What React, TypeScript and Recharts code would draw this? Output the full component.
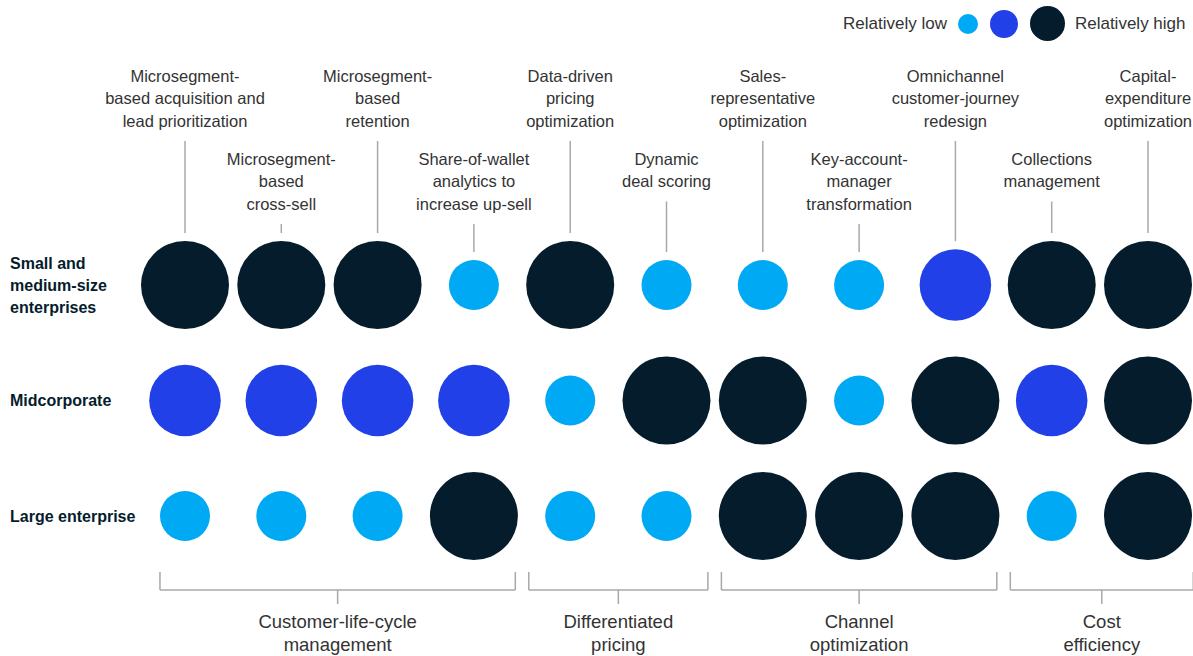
import React from "react";
import {
  ScatterChart,
  Scatter,
  XAxis,
  YAxis,
  ZAxis,
  ReferenceLine,
  Legend,
} from "recharts";

// columns (use cases), top labels split into lines
const USE_CASES = [
  ["Microsegment-", "based acquisition and", "lead prioritization"],
  ["Microsegment-", "based", "cross-sell"],
  ["Microsegment-", "based", "retention"],
  ["Share-of-wallet", "analytics to", "increase up-sell"],
  ["Data-driven", "pricing", "optimization"],
  ["Dynamic", "deal scoring"],
  ["Sales-", "representative", "optimization"],
  ["Key-account-", "manager", "transformation"],
  ["Omnichannel", "customer-journey", "redesign"],
  ["Collections", "management"],
  ["Capital-", "expenditure", "optimization"],
];

const SEGMENTS = [
  ["Small and", "medium-size", "enterprises"],
  ["Midcorporate"],
  ["Large enterprise"],
];

// 1 = relatively low, 2 = medium, 3 = relatively high
const SME_VALUES = [3, 3, 3, 1, 3, 1, 1, 1, 2, 3, 3];
const MIDCORP_VALUES = [2, 2, 2, 2, 1, 3, 3, 1, 3, 2, 3];
const LARGE_VALUES = [1, 1, 1, 3, 1, 1, 3, 3, 3, 1, 3];

const GROUP_NAMES = [
  ["Customer-life-cycle", "management"],
  ["Differentiated", "pricing"],
  ["Channel", "optimization"],
  ["Cost", "efficiency"],
];
const GROUP_FIRST = [0, 4, 6, 9];
const GROUP_LAST = [3, 5, 8, 10];

const LEVEL_COLORS: Record<number, string> = {
  1: "#00a9f4",
  2: "#2140e8",
  3: "#051c2c",
};

const FONT = "'Liberation Sans', Arial, sans-serif";
const TEXT = "#333333";
const LINE = "#a8a8a8";
const SIZE_RANGE: [number, number] = [1963, 6082];
const LAST_COL = USE_CASES.length - 1;

const points = [SME_VALUES, MIDCORP_VALUES, LARGE_VALUES].flatMap((vals, row) =>
  vals.map((level, col) => ({ col, row, level }))
);

const radiusOf = (level: number) =>
  Math.sqrt((SIZE_RANGE[0] + ((level - 1) * (SIZE_RANGE[1] - SIZE_RANGE[0])) / 2) / Math.PI);

// bracket geometry in data units (rows are 0..2)
const BRACKET_TOP = 2.485;
const BRACKET_Y = 2.64;
const BRACKET_TICK = 2.762;
const GAP = 0.07;
const groupStart = GROUP_FIRST.map((f) => (f === 0 ? f - 0.26 : f - 0.5 + GAP));
const groupEnd = GROUP_LAST.map((l) => (l === LAST_COL ? l + 0.47 : l + 0.5 - GAP));
const groupMid = groupStart.map((s, i) => (s + groupEnd[i]) / 2);

const ROW0_Y = 285;

const UseCaseTick = (props: any) => {
  const { x, payload } = props;
  const col = payload.value as number;
  const lines = USE_CASES[col];
  const upper = col % 2 === 0;
  const first = upper ? 76 : 159;
  const step = 22.5;
  const lineStart = first + (lines.length - 1) * step + 20;
  const lineEnd = ROW0_Y - radiusOf(SME_VALUES[col]) - 8;
  return (
    <g>
      {lines.map((t, i) => (
        <text
          key={i}
          x={x}
          y={first + i * step + 5.5}
          textAnchor="middle"
          fontFamily={FONT}
          fontSize={16.5}
          fill={TEXT}
        >
          {t}
        </text>
      ))}
      <line x1={x} x2={x} y1={lineStart} y2={lineEnd} stroke={LINE} strokeWidth={1.5} />
    </g>
  );
};

const SegmentTick = (props: any) => {
  const { y, payload } = props;
  const lines = SEGMENTS[payload.value as number];
  const step = 22;
  const top = y - ((lines.length - 1) * step) / 2;
  return (
    <g>
      {lines.map((t, i) => (
        <text
          key={i}
          x={10}
          y={top + i * step + 5.5}
          textAnchor="start"
          fontFamily={FONT}
          fontSize={16}
          fontWeight="bold"
          fill="#051c2c"
        >
          {t}
        </text>
      ))}
    </g>
  );
};

const GroupLabel = (props: any) => {
  const { viewBox, lines } = props;
  const x = viewBox.x + (viewBox.width || 0) / 2;
  const y = viewBox.y + (viewBox.height || 0);
  return (
    <g>
      {(lines as string[]).map((t, i) => (
        <text
          key={i}
          x={x}
          y={y + 24 + i * 22.5}
          textAnchor="middle"
          fontFamily={FONT}
          fontSize={18.5}
          fill={TEXT}
        >
          {t}
        </text>
      ))}
    </g>
  );
};

const Bubble = (props: any) => {
  const { cx, cy, width, payload } = props;
  const level = payload?.level ?? props.level;
  return <circle cx={cx} cy={cy} r={width / 2} fill={LEVEL_COLORS[level]} />;
};

const LegendContent = () => (
  <div
    style={{
      display: "flex",
      alignItems: "center",
      fontFamily: FONT,
      fontSize: 17,
      color: TEXT,
    }}
  >
    <span style={{ marginRight: 11 }}>Relatively low</span>
    {[1, 2, 3].map((lvl) => {
      const r = [10, 14, 17.5][lvl - 1];
      return (
        <svg key={lvl} width={r * 2} height={r * 2} style={{ marginRight: lvl === 3 ? 10 : 12 }}>
          <circle cx={r} cy={r} r={r} fill={LEVEL_COLORS[lvl]} />
        </svg>
      );
    })}
    <span>Relatively high</span>
  </div>
);

export default function App() {
  return (
    <div style={{ position: "absolute", left: 0, top: 0, background: "#fff" }}>
      <ScatterChart
        width={1193}
        height={656}
        margin={{ top: 255, right: 45, bottom: 140, left: 10 }}
      >
        <XAxis
          type="number"
          dataKey="col"
          orientation="top"
          domain={[0, LAST_COL]}
          ticks={USE_CASES.map((_, i) => i)}
          interval={0}
          height={30}
          axisLine={false}
          tickLine={false}
          tick={<UseCaseTick />}
        />
        <YAxis
          type="number"
          dataKey="row"
          domain={[0, 2]}
          reversed
          ticks={[0, 1, 2]}
          interval={0}
          width={175}
          axisLine={false}
          tickLine={false}
          tick={<SegmentTick />}
        />
        <ZAxis type="number" dataKey="level" domain={[1, 3]} range={SIZE_RANGE} />
        <Legend
          verticalAlign="middle"
          layout="horizontal"
          content={<LegendContent />}
          wrapperStyle={{ left: 843, top: 6, width: 350, height: 36 }}
        />
        {groupStart.map((s, i) => (
          <React.Fragment key={i}>
            <ReferenceLine
              ifOverflow="visible"
              segment={[
                { x: s, y: BRACKET_Y },
                { x: groupEnd[i], y: BRACKET_Y },
              ]}
              stroke={LINE}
              strokeWidth={1.5}
            />
            <ReferenceLine
              ifOverflow="visible"
              segment={[
                { x: s, y: BRACKET_TOP },
                { x: s, y: BRACKET_Y },
              ]}
              stroke={LINE}
              strokeWidth={1.5}
            />
            <ReferenceLine
              ifOverflow="visible"
              segment={[
                { x: groupEnd[i], y: BRACKET_TOP },
                { x: groupEnd[i], y: BRACKET_Y },
              ]}
              stroke={LINE}
              strokeWidth={1.5}
            />
            <ReferenceLine
              ifOverflow="visible"
              segment={[
                { x: groupMid[i], y: BRACKET_Y },
                { x: groupMid[i], y: BRACKET_TICK },
              ]}
              stroke={LINE}
              strokeWidth={1.5}
              label={<GroupLabel lines={GROUP_NAMES[i]} />}
            />
          </React.Fragment>
        ))}
        <Scatter data={points} shape={<Bubble />} isAnimationActive={false} />
      </ScatterChart>
    </div>
  );
}
